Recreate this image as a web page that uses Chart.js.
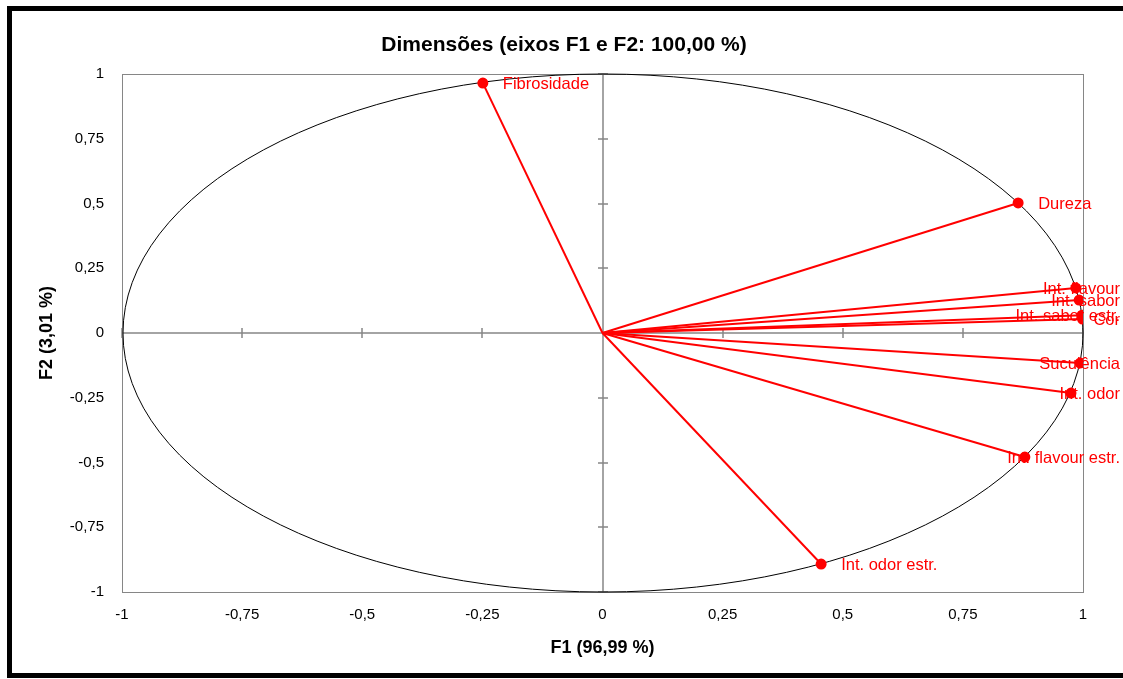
<!DOCTYPE html>
<html>
<head>
<meta charset="utf-8">
<script src="https://cdn.jsdelivr.net/npm/chart.js@4.4.1/dist/chart.umd.min.js"></script>
<style>
    body { margin: 0; background: #fff; overflow: hidden; }
    #wrap { position: relative; width: 1123px; height: 679px; }
    #frame { position: absolute; left: 7px; top: 6px; width: 1130px; height: 662px; border: 5px solid #000; pointer-events: none; }
</style>
</head>
<body>
<div id="wrap">
    <canvas id="chart" width="1123" height="679"></canvas>
    <div id="frame"></div>
</div>
<script>
// variáveis e coordenadas nos fatores F1 / F2
let names = ["Fibrosidade", "Dureza", "Int. flavour", "Int. sabor", "Int. sabor estr.", "Cor", "Suculência", "Int. odor", "Int. flavour estr.", "Int. odor estr."];
let f1 = [-0.249, 0.865, 0.985, 0.992, 0.998, 0.999, 0.994, 0.975, 0.879, 0.455];
let f2 = [0.965, 0.502, 0.174, 0.127, 0.069, 0.054, -0.116, -0.232, -0.479, -0.892];
let tickVals = [-1, -0.75, -0.5, -0.25, 0, 0.25, 0.5, 0.75, 1];
let titleText = "Dimensões (eixos F1 e F2: 100,00 %)";

let red = "#ff0000";
let gray = "#868686";
let font = "'Liberation Sans', Arial, sans-serif";

function fmt(v) {
    return String(v).replace(".", ",");
}

let datasets = names.map((n, i) => ({
    label: n,
    data: [{ x: 0, y: 0 }, { x: f1[i], y: f2[i] }],
    showLine: true,
    borderColor: red,
    backgroundColor: red,
    borderWidth: 2,
    pointRadius: [0, 4.5],
    pointHoverRadius: [0, 4.5]
}));

// círculo de correlação, eixos no zero e moldura
let background = {
    id: "background",
    beforeDatasetsDraw(chart) {
        let { ctx, chartArea: a, scales: { x, y } } = chart;
        let cx = Math.round(x.getPixelForValue(0)), cy = Math.round(y.getPixelForValue(0));
        ctx.save();
        ctx.strokeStyle = gray;
        ctx.lineWidth = 1;
        ctx.strokeRect(a.left + 0.5, a.top + 0.5, a.width, a.height);

        ctx.lineWidth = 1.5;
        ctx.beginPath();
        ctx.moveTo(a.left, cy);
        ctx.lineTo(a.right, cy);
        ctx.moveTo(cx, a.top);
        ctx.lineTo(cx, a.bottom);
        tickVals.forEach(v => {
            let px = Math.round(x.getPixelForValue(v));
            ctx.moveTo(px, cy - 5);
            ctx.lineTo(px, cy + 5);
            let py = Math.round(y.getPixelForValue(v));
            ctx.moveTo(cx - 5, py);
            ctx.lineTo(cx + 5, py);
        });
        ctx.stroke();

        ctx.strokeStyle = "#000";
        ctx.lineWidth = 1;
        ctx.beginPath();
        ctx.ellipse(cx, cy, x.getPixelForValue(1) - cx, cy - y.getPixelForValue(1), 0, 0, Math.PI * 2);
        ctx.stroke();
        ctx.restore();
    }
};

// título e rótulos dos pontos
let texts = {
    id: "texts",
    afterDatasetsDraw(chart) {
        let { ctx, scales: { x, y } } = chart;
        ctx.save();
        ctx.fillStyle = "#000";
        ctx.font = "bold 21px " + font;
        ctx.textAlign = "center";
        ctx.textBaseline = "middle";
        ctx.fillText(titleText, 564, 45);

        ctx.font = "16.5px " + font;
        ctx.fillStyle = red;
        ctx.textAlign = "left";
        names.forEach((n, i) => {
            let px = x.getPixelForValue(f1[i]) + 20;
            let w = ctx.measureText(n).width;
            if (px + w > 1120) px = 1120 - w;
            ctx.fillText(n, px, y.getPixelForValue(f2[i]) + 1.5);
        });
        ctx.restore();
    }
};

new Chart(document.getElementById("chart"), {
    type: "scatter",
    data: { datasets: datasets },
    options: {
        responsive: false,
        animation: false,
        layout: { padding: { left: 0, right: 40, top: 74, bottom: 0 } },
        plugins: {
            legend: { display: false },
            tooltip: { enabled: false },
            title: { display: false }
        },
        scales: {
            x: {
                min: -1, max: 1,
                afterFit: s => { s.height = 87; },
                afterBuildTicks: s => { s.ticks = tickVals.map(v => ({ value: v })); },
                grid: { display: false, drawTicks: false },
                border: { display: false },
                ticks: { padding: 14, color: "#000", font: { family: font, size: 15 }, callback: v => fmt(v), maxRotation: 0 },
                title: { display: true, text: "F1 (96,99 %)", color: "#000", font: { family: font, size: 18, weight: "bold" }, padding: { bottom: 20 } }
            },
            y: {
                min: -1, max: 1,
                afterFit: s => { s.width = 122; },
                afterBuildTicks: s => { s.ticks = tickVals.map(v => ({ value: v })); },
                grid: { display: false, drawTicks: false },
                border: { display: false },
                ticks: { padding: 18, color: "#000", font: { family: font, size: 15 }, callback: v => fmt(v) },
                title: { display: true, text: "F2 (3,01 %)", color: "#000", font: { family: font, size: 18, weight: "bold" }, padding: { top: 36 } }
            }
        }
    },
    plugins: [background, texts]
});
</script>
</body>
</html>
